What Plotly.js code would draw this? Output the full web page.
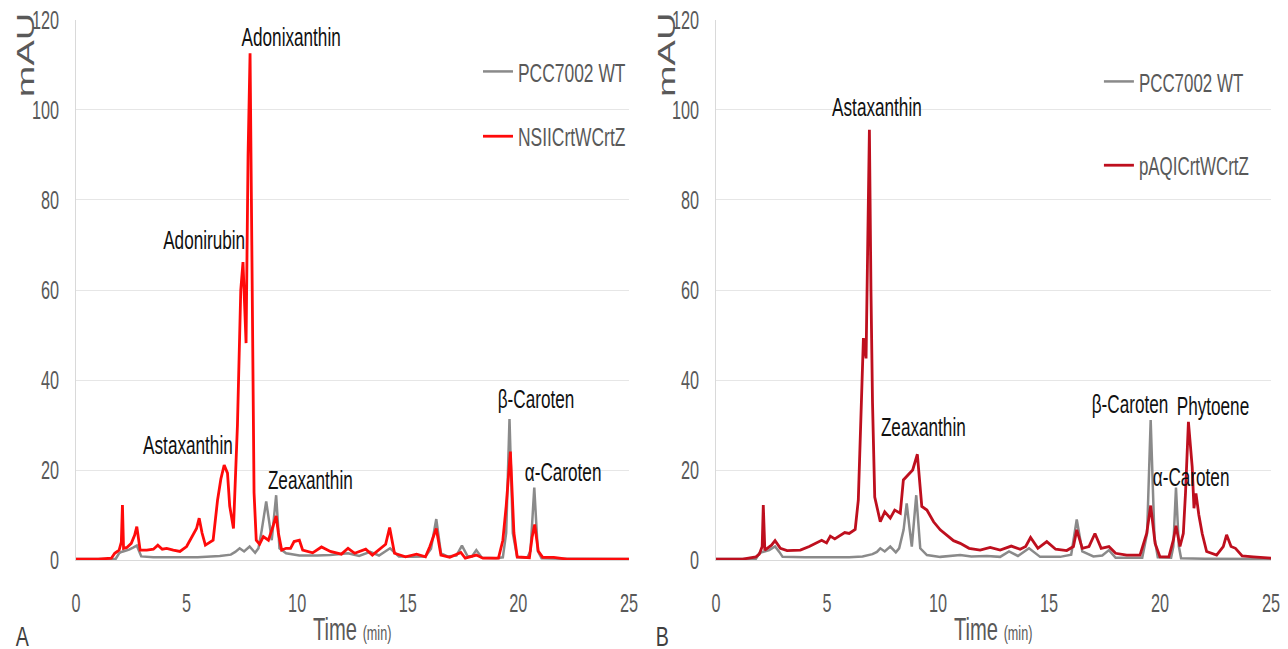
<!DOCTYPE html>
<html>
<head>
<meta charset="utf-8">
<script src="https://cdn.plot.ly/plotly-3.0.1.min.js"></script>
<style>html,body{margin:0;padding:0;background:#fff;}#chart{width:1288px;height:649px;}</style>
</head>
<body>
<div id="chart"></div>
<script>
// ---------- DATA (retention time in min, absorbance in mAU) ----------
// Panel A
const timeA_WT = [0, 1.0, 1.8, 1.95, 2.05, 2.2, 2.4, 2.6, 2.75, 2.85,
  2.95, 3.5, 4.5, 5.5, 6.5, 7.0, 7.2, 7.4, 7.6, 7.85,
  8.1, 8.25, 8.4, 8.6, 8.75, 8.85, 9.05, 9.2, 9.5, 10.1,
  10.9, 11.5, 12.3, 12.8, 13.3, 13.7, 14.2, 14.6, 15.2, 15.8,
  16.05, 16.29, 16.5, 16.8, 17.2, 17.45, 17.7, 17.9, 18.1, 18.35,
  19.0, 19.3, 19.45, 19.6, 19.75, 19.95, 20.4, 20.55, 20.72, 20.88,
  21.05, 22, 25];
const valA_WT = [0.2, 0.2, 0.3, 1.5, 1.8, 2.0, 2.3, 2.8, 3.2, 2.0,
  0.8, 0.6, 0.6, 0.6, 0.9, 1.2, 1.8, 2.6, 1.9, 3.0,
  1.6, 2.6, 6.7, 13.0, 8.0, 4.4, 14.4, 2.6, 1.5, 1.0,
  1.0, 1.1, 1.5, 0.9, 1.8, 1.0, 2.6, 0.8, 0.7, 0.8,
  2.5, 9.1, 1.5, 0.8, 1.0, 3.2, 0.9, 0.8, 2.2, 0.5,
  0.4, 0.6, 6.0, 31.3, 6.0, 0.6, 0.5, 2.0, 16.1, 2.0,
  0.4, 0.3, 0.2];

const timeA_Mut = [0, 1.0, 1.6, 1.75, 1.95, 2.05, 2.1, 2.15, 2.3, 2.5,
  2.65, 2.75, 2.9, 3.2, 3.5, 3.7, 3.9, 4.1, 4.4, 4.7,
  5.0, 5.3, 5.45, 5.57, 5.7, 5.85, 6.2, 6.4, 6.55, 6.7,
  6.85, 6.95, 7.12, 7.3, 7.45, 7.55, 7.62, 7.69, 7.78, 7.87,
  7.95, 8.05, 8.15, 8.3, 8.47, 8.7, 8.9, 9.05, 9.15, 9.3,
  9.5, 9.7, 9.86, 10.1, 10.25, 10.5, 10.7, 11.1, 11.5, 12.0,
  12.3, 12.6, 13.1, 13.4, 13.8, 14.0, 14.18, 14.4, 14.9, 15.4,
  15.8, 16.0, 16.29, 16.5, 16.9, 17.1, 17.4, 17.6, 18.1, 18.4,
  19.1, 19.3, 19.45, 19.64, 19.8, 19.95, 20.5, 20.62, 20.74, 20.9,
  21.1, 21.6, 22.2, 25];
const valA_Mut = [0.2, 0.2, 0.4, 1.5, 2.2, 4.0, 12.2, 2.6, 2.8, 3.7,
  5.5, 7.4, 2.2, 2.2, 2.4, 3.3, 2.4, 2.6, 2.2, 1.9,
  3.0, 5.5, 7.0, 9.3, 6.0, 3.3, 4.4, 13.3, 18.0, 21.1,
  19.3, 12.0, 7.0, 30.0, 60.0, 66.2, 58.0, 48.2, 90.0, 112.6,
  70.0, 15.0, 4.4, 3.5, 5.2, 4.4, 7.4, 9.8, 6.0, 2.2,
  2.6, 2.6, 4.1, 4.4, 2.2, 1.8, 1.6, 2.9, 1.9, 1.3,
  2.6, 1.5, 2.4, 1.1, 2.6, 3.5, 7.2, 1.5, 0.7, 1.3,
  0.7, 3.0, 7.0, 1.1, 0.6, 1.1, 1.7, 0.4, 1.1, 0.4,
  0.4, 4.4, 12.0, 24.1, 6.0, 0.7, 0.5, 5.0, 7.9, 2.0,
  0.6, 0.6, 0.2, 0.2];

// Panel B
const timeB_WT = [0, 1.0, 1.8, 1.95, 2.1, 2.4, 2.66, 2.85, 3.0, 4.0,
  5.0, 6.0, 6.6, 7.05, 7.25, 7.4, 7.6, 7.85, 8.1, 8.25,
  8.45, 8.59, 8.72, 8.82, 9.02, 9.2, 9.5, 10.1, 11.0, 11.5,
  12.2, 12.8, 13.2, 13.6, 14.1, 14.6, 15.5, 16.0, 16.25, 16.5,
  17.0, 17.4, 17.7, 18.0, 19.2, 19.42, 19.58, 19.75, 19.9, 20.5,
  20.6, 20.72, 20.85, 20.95, 22, 25];
const valB_WT = [0.2, 0.2, 0.3, 1.5, 1.8, 2.2, 3.0, 1.8, 0.7, 0.6,
  0.6, 0.6, 0.8, 1.3, 1.8, 2.6, 1.9, 3.0, 1.7, 2.6,
  6.7, 12.6, 7.0, 3.0, 14.4, 2.6, 1.1, 0.7, 1.1, 0.8,
  0.9, 0.7, 1.9, 0.9, 2.6, 0.7, 0.7, 1.2, 9.0, 1.9,
  0.8, 1.0, 2.2, 0.5, 0.5, 6.0, 31.1, 5.0, 0.6, 0.5,
  3.0, 16.1, 3.0, 0.4, 0.3, 0.2];

const timeB_Mut = [0, 1.2, 1.8, 1.95, 2.08, 2.13, 2.2, 2.5, 2.66, 2.9,
  3.2, 3.8, 4.2, 4.5, 4.76, 4.98, 5.15, 5.35, 5.58, 5.8,
  6.0, 6.27, 6.41, 6.56, 6.64, 6.76, 6.84, 6.91, 6.98, 7.05,
  7.15, 7.32, 7.4, 7.6, 7.85, 8.05, 8.3, 8.44, 8.67, 8.86,
  9.07, 9.17, 9.27, 9.5, 9.8, 10.1, 10.4, 10.7, 11.0, 11.4,
  11.9, 12.35, 12.8, 13.3, 13.7, 13.95, 14.17, 14.5, 14.9, 15.3,
  15.8, 16.1, 16.25, 16.5, 16.8, 17.07, 17.35, 17.7, 18.0, 18.5,
  19.1, 19.4, 19.58, 19.78, 20.0, 20.4, 20.6, 20.72, 20.9, 21.05,
  21.15, 21.28, 21.45, 21.53, 21.62, 21.75, 21.9, 22.1, 22.55, 22.85,
  23.0, 23.2, 23.4, 23.7, 24.2, 25];
const valB_Mut = [0.2, 0.2, 0.7, 1.3, 3.0, 12.2, 2.2, 3.3, 4.3, 2.6,
  2.1, 2.2, 3.0, 3.7, 4.4, 3.8, 5.3, 4.7, 5.5, 6.1,
  5.9, 6.8, 13.3, 39.3, 49.3, 44.8, 70.0, 95.6, 60.0, 35.0,
  14.0, 10.4, 8.5, 10.7, 9.3, 11.1, 10.4, 17.8, 18.9, 20.0,
  23.5, 18.0, 11.9, 11.1, 8.5, 6.7, 5.6, 4.3, 3.7, 2.6,
  2.2, 2.8, 2.2, 3.1, 2.4, 3.0, 5.0, 2.6, 4.1, 2.4,
  2.1, 3.0, 6.7, 2.6, 3.0, 5.9, 2.6, 3.0, 1.5, 1.1,
  1.1, 5.9, 12.1, 3.7, 0.7, 0.7, 4.4, 7.6, 3.0, 5.9,
  15.0, 30.7, 20.7, 11.5, 14.8, 10.0, 5.9, 1.9, 1.1, 3.0,
  5.6, 3.0, 2.6, 0.9, 0.7, 0.4];

const seriesNames = ["PCC7002 WT", "NSIICrtWCrtZ", "pAQICrtWCrtZ"];
const xTicks = [0, 5, 10, 15, 20, 25];

// peak labels: [text, time, mAU]
const labelsA = [["Adonixanthin", 9.7, 116.2], ["Adonirubin", 5.8, 71.0], ["Astaxanthin", 5.05, 25.6],
  ["Zeaxanthin", 10.6, 17.8], ["β-Caroten", 20.8, 35.8], ["α-Caroten", 22.0, 19.5]];
const labelsB = [["Astaxanthin", 7.27, 100.6], ["Zeaxanthin", 9.35, 29.6], ["β-Caroten", 18.65, 34.7],
  ["Phytoene", 22.4, 34.2], ["α-Caroten", 21.4, 18.4]];

// ---------- STYLE ----------
const FONT = "'Liberation Sans', Arial, sans-serif";
const GRAY = "#8A8A8A", RED = "#FF0A0A", DARKRED = "#BE0F1E", TXT = "#595959";

const traces = [
  {x: timeA_WT, y: valA_WT, name: seriesNames[0], type: "scatter", mode: "lines",
   line: {color: GRAY, width: 2.5}, xaxis: "x", yaxis: "y", legend: "legend", legendgroup: "a1"},
  {x: timeA_Mut, y: valA_Mut, name: seriesNames[1], type: "scatter", mode: "lines",
   line: {color: RED, width: 2.8}, xaxis: "x", yaxis: "y", legend: "legend", legendgroup: "a2"},
  {x: timeB_WT, y: valB_WT, name: seriesNames[0], type: "scatter", mode: "lines",
   line: {color: GRAY, width: 2.5}, xaxis: "x2", yaxis: "y2", legend: "legend2", legendgroup: "b1"},
  {x: timeB_Mut, y: valB_Mut, name: seriesNames[2], type: "scatter", mode: "lines",
   line: {color: DARKRED, width: 2.8}, xaxis: "x2", yaxis: "y2", legend: "legend2", legendgroup: "b2"}
];

function xax(domain, anchor) {
  return {domain: domain, anchor: anchor, range: [0, 25], tickvals: xTicks, showgrid: false, zeroline: false,
    showline: true, linecolor: "#D9D9D9", linewidth: 1, ticks: "", ticklabelstandoff: 21,
    tickfont: {family: FONT, size: 25, color: TXT}, fixedrange: true};
}
function yax(anchor) {
  return {domain: [0.1371, 0.9692], anchor: anchor, range: [0, 120], dtick: 20, showgrid: true,
    gridcolor: "#E6E6E6", gridwidth: 1, zeroline: false, showline: true, linecolor: "#D9D9D9",
    linewidth: 1, ticks: "", ticklabelstandoff: 11, tickfont: {family: FONT, size: 25, color: TXT}, fixedrange: true};
}

const annotations = [];
labelsA.forEach(l => annotations.push({text: l[0], x: l[1], y: l[2], xref: "x", yref: "y", showarrow: false,
  font: {family: FONT, size: 26, color: "#111"}}));
labelsB.forEach(l => annotations.push({text: l[0], x: l[1], y: l[2], xref: "x2", yref: "y2", showarrow: false,
  font: {family: FONT, size: 26, color: "#111"}}));
[["x", 0.0200], ["x2", 0.5175]].forEach((p, i) => {
  annotations.push({text: "mAU", xref: "paper", yref: "paper", x: p[1], y: 0.9153, textangle: -90,
    xanchor: "center", yanchor: "middle", showarrow: false, font: {family: FONT, size: 24, color: TXT}});
  annotations.push({text: "Time <span style='font-size:20px'>(min)</span>", xref: p[0], yref: "paper",
    x: 12.5, y: 0.0, yanchor: "bottom", showarrow: false, font: {family: FONT, size: 32, color: TXT}});
  annotations.push({text: i === 0 ? "A" : "B", xref: "paper", yref: "paper", x: i === 0 ? 0.0175 : 0.5143,
    y: 0.0185, xanchor: "center", yanchor: "middle", showarrow: false, font: {family: FONT, size: 28, color: "#404040"}});
});

const legendFont = {family: FONT, size: 26, color: TXT};
const layout = {
  width: 1288, height: 649, margin: {l: 0, r: 0, t: 0, b: 0, autoexpand: false},
  paper_bgcolor: "#fff", plot_bgcolor: "#fff", showlegend: true,
  xaxis: xax([0.0590, 0.4883], "y"), yaxis: yax("x"),
  xaxis2: xax([0.5559, 0.9868], "y2"), yaxis2: yax("x2"),
  legend: {x: 0.3711, xanchor: "left", y: 0.926, yanchor: "top", font: legendFont,
    bgcolor: "rgba(0,0,0,0)", tracegroupgap: 28, traceorder: "grouped"},
  legend2: {x: 0.8532, xanchor: "left", y: 0.9106, yanchor: "top", font: legendFont,
    bgcolor: "rgba(0,0,0,0)", tracegroupgap: 47, traceorder: "grouped"},
  annotations: annotations
};

// the reference uses a strongly condensed typeface: squeeze glyphs horizontally,
// keeping each text at its anchor (start / middle / end)
function condense() {
  document.querySelectorAll("#chart svg text").forEach(el => {
    const t = el.textContent;
    if (!t || !t.trim()) return;
    let f = 0.65;
    if (t === "mAU") f = 1.58;
    else if (el.classList.contains("legendtext")) f = 0.67;
    else if (el.classList.contains("annotation-text")) {
      if (t.indexOf("Time") === 0) f = 0.63;
      else if (t === "A" || t === "B") f = 0.7;
      else f = 0.66;
    }
    const len = el.getComputedTextLength();
    if (!(len > 0)) return;
    const b0 = el.getBBox();
    el.setAttribute("textLength", (len * f).toFixed(1));
    el.setAttribute("lengthAdjust", "spacingAndGlyphs");
    const b1 = el.getBBox();
    const anchor = getComputedStyle(el).textAnchor;
    let shift;
    if (anchor === "middle") shift = (b0.x + b0.width / 2) - (b1.x + b1.width / 2);
    else if (anchor === "end") shift = (b0.x + b0.width) - (b1.x + b1.width);
    else shift = b0.x - b1.x;
    if (Math.abs(shift) > 0.3) {
      el.setAttribute("x", ((parseFloat(el.getAttribute("x")) || 0) + shift).toFixed(2));
      el.querySelectorAll("tspan[x]").forEach(ts =>
        ts.setAttribute("x", ((parseFloat(ts.getAttribute("x")) || 0) + shift).toFixed(2)));
    }
  });
}

Plotly.newPlot("chart", traces, layout, {displayModeBar: false, staticPlot: true}).then(condense);
</script>
</body>
</html>
